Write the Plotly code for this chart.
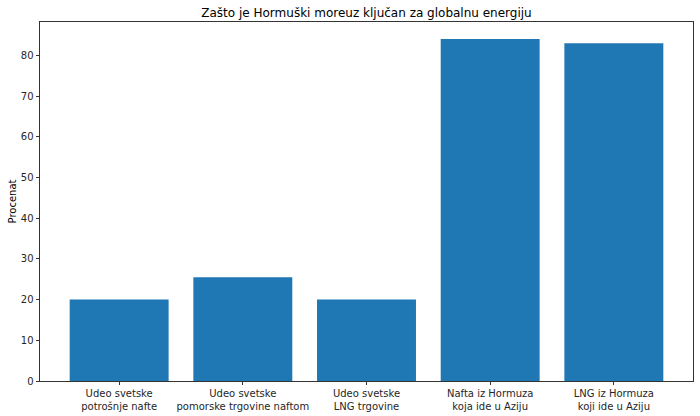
import plotly.graph_objects as go

categories = [
    "Udeo svetske<br>potrošnje nafte",
    "Udeo svetske<br>pomorske trgovine naftom",
    "Udeo svetske<br>LNG trgovine",
    "Nafta iz Hormuza<br>koja ide u Aziju",
    "LNG iz Hormuza<br>koji ide u Aziju",
]
values = [20, 25.5, 20, 84, 83]
y_ticks = [0, 10, 20, 30, 40, 50, 60, 70, 80]

x_pos = list(range(len(categories)))

fig = go.Figure(
    go.Bar(
        x=x_pos,
        y=values,
        width=0.8,
        marker=dict(color="#1f77b4", line=dict(width=0)),
    )
)

font = "DejaVu Sans, sans-serif"
fig.update_layout(
    width=700,
    height=416,
    margin=dict(l=40, r=7, t=22, b=35, autoexpand=False),
    paper_bgcolor="white",
    plot_bgcolor="white",
    showlegend=False,
    font=dict(family=font, size=10, color="#262626"),
    title=dict(
        text="Zašto je Hormuški moreuz ključan za globalnu energiju",
        x=0.5 * (40 + 693) / 700,
        xanchor="center",
        y=1 - 13 / 416,
        yanchor="middle",
        font=dict(family=font, size=12, color="#000000"),
    ),
    xaxis=dict(
        automargin=False,
        range=[-0.64, 4.64],
        tickmode="array",
        tickvals=x_pos,
        ticktext=categories,
        ticks="outside",
        ticklen=3.5,
        tickwidth=0.8,
        tickcolor="#333333",
        showline=True,
        linecolor="#333333",
        linewidth=0.8,
        mirror=True,
        showgrid=False,
        zeroline=False,
        tickfont=dict(family=font, size=10, color="#262626"),
    ),
    yaxis=dict(
        automargin=False,
        range=[0, 88.2],
        tickmode="array",
        tickvals=y_ticks,
        ticks="outside",
        ticklen=3.5,
        tickwidth=0.8,
        tickcolor="#333333",
        showline=True,
        linecolor="#333333",
        linewidth=0.8,
        mirror=True,
        showgrid=False,
        zeroline=False,
        title=dict(text="Procenat", font=dict(family=font, size=10, color="#000000"), standoff=2),
        tickfont=dict(family=font, size=10, color="#262626"),
    ),
)

fig.write_html(
    "out.html",
    config={"displayModeBar": False},
    post_script="document.body.style.margin='0';document.body.style.padding='0';",
)
